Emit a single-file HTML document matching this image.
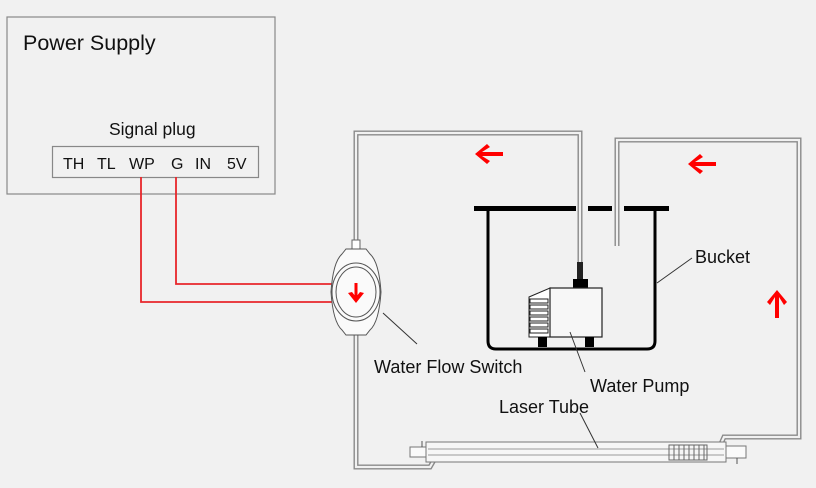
<!DOCTYPE html>
<html><head><style>
html,body{margin:0;padding:0;background:#f1f1f1;}
svg{display:block;font-family:"Liberation Sans",Arial,sans-serif;}
</style></head><body>
<svg width="816" height="488" viewBox="0 0 816 488" xmlns="http://www.w3.org/2000/svg">
<rect width="816" height="488" fill="#f1f1f1"/>
<!-- power supply -->
<rect x="7" y="17" width="268" height="177" fill="none" stroke="#888" stroke-width="1.2"/>
<text x="23" y="50" font-size="21.5" fill="#111">Power Supply</text>
<text x="109" y="135" font-size="17.5" fill="#111">Signal plug</text>
<rect x="52.5" y="146.5" width="206" height="31" fill="none" stroke="#888" stroke-width="1.2"/>
<text y="169" font-size="16" fill="#111"><tspan x="63">TH</tspan><tspan x="97">TL</tspan><tspan x="129">WP</tspan><tspan x="171">G</tspan><tspan x="195">IN</tspan><tspan x="227">5V</tspan></text>
<!-- red wires -->
<polyline points="141,177 141,302 334,302" fill="none" stroke="#e8262b" stroke-width="1.8"/>
<polyline points="176,177 176,284 334,284" fill="none" stroke="#e8262b" stroke-width="1.8"/>
<!-- pipes -->
<g fill="none" stroke-linejoin="miter">
<g stroke="#8a8a8a" stroke-width="5">
<polyline points="356,252 356,133 580,133 580,262"/>
<polyline points="617,246 617,140 799,140 799,437 724,437 720,446"/>
<polyline points="356,332 356,467 430,467 434,460"/>
</g>
<g stroke="#f1f1f1" stroke-width="2.2">
<polyline points="356,252 356,133 580,133 580,262"/>
<polyline points="617,246 617,140 799,140 799,437 724,437 720,446"/>
<polyline points="356,332 356,467 430,467 434,460"/>
</g>
</g>
<!-- bucket -->
<g fill="#000">
<rect x="474" y="206" width="102" height="5"/>
<rect x="588" y="206" width="24" height="5"/>
<rect x="624" y="206" width="45" height="5"/>
</g>
<path d="M488,211 V341 Q488,349 496,349 H647 Q655,349 655,341 V211" fill="none" stroke="#000" stroke-width="3"/>
<!-- pump -->
<rect x="577" y="262" width="6" height="17" fill="#222"/>
<rect x="573" y="279" width="15" height="10" fill="#000"/>
<path d="M529,297 L550,288 V337 H529 Z" fill="#fff" stroke="#222" stroke-width="1"/>
<g stroke="#222" stroke-width="1" fill="#fff">
<rect x="530" y="299" width="18" height="4"/><rect x="530" y="305" width="18" height="4"/><rect x="530" y="311" width="18" height="4"/><rect x="530" y="317" width="18" height="4"/><rect x="530" y="323" width="18" height="4"/><rect x="530" y="329" width="18" height="4"/>
</g>
<rect x="550" y="288" width="52" height="49" fill="#f7f7f7" stroke="#222" stroke-width="1.2"/>
<rect x="538" y="337" width="9" height="10" fill="#000"/>
<rect x="585" y="337" width="9" height="10" fill="#000"/>
<!-- switch -->
<rect x="352" y="240" width="8" height="12" fill="#fff" stroke="#666"/>
<rect x="352" y="323" width="8" height="12" fill="#fff" stroke="#666"/>
<path d="M342,254 L346,249 H366 L370,254 Q379,262 381,292 Q379,322 370,330 L366,335 H346 L342,330 Q333,322 331,292 Q333,262 342,254 Z" fill="#fafafa" stroke="#555" stroke-width="1"/>
<ellipse cx="356" cy="292" rx="24" ry="29" fill="none" stroke="#555"/>
<ellipse cx="356" cy="292" rx="20" ry="25" fill="#fafafa" stroke="#555"/>
<path d="M356,283 V299" stroke="#f00" stroke-width="3"/>
<path d="M348,293 L356,303 L364,293 L360,292 L356,297 L352,292 Z" fill="#f00"/>
<!-- red arrows -->
<g fill="#f00">
<path d="M475,154 L487,144 L490,147 L482,152 H503 V156 H482 L490,161 L487,164 Z"/>
<path d="M688,164 L700,154 L703,157 L695,162 H716 V166 H695 L703,171 L700,174 Z"/>
<path d="M777,290 L787,302 L784,305 L779,297 V318 H775 V297 L770,305 L767,302 Z"/>
</g>
<!-- laser tube -->
<rect x="410" y="447" width="16" height="10" fill="#fafafa" stroke="#777"/>
<rect x="426" y="442" width="300" height="20" fill="#f6f6f6" stroke="#777"/>
<line x1="428" y1="449" x2="724" y2="449" stroke="#999"/>
<line x1="428" y1="455" x2="724" y2="455" stroke="#999"/>
<g stroke="#666" fill="none"><rect x="669" y="445" width="38" height="15"/>
<path d="M674,445V460M679,445V460M684,445V460M689,445V460M694,445V460M699,445V460M704,445V460"/></g>
<rect x="726" y="446" width="20" height="12" fill="#fafafa" stroke="#777"/>
<line x1="737" y1="458" x2="737" y2="464" stroke="#555"/>
<line x1="422" y1="441" x2="422" y2="447" stroke="#555"/>
<!-- labels -->
<g stroke="#333" stroke-width="1" fill="none">
<line x1="383" y1="313" x2="417" y2="344"/>
<line x1="657" y1="283" x2="692" y2="258"/>
<line x1="570" y1="332" x2="585" y2="372"/>
<line x1="580" y1="413" x2="598" y2="448"/>
</g>
<g font-size="18" fill="#111">
<text x="374" y="373">Water Flow Switch</text>
<text x="695" y="263">Bucket</text>
<text x="590" y="392">Water Pump</text>
<text x="499" y="413">Laser Tube</text>
</g>
</svg>
</body></html>
